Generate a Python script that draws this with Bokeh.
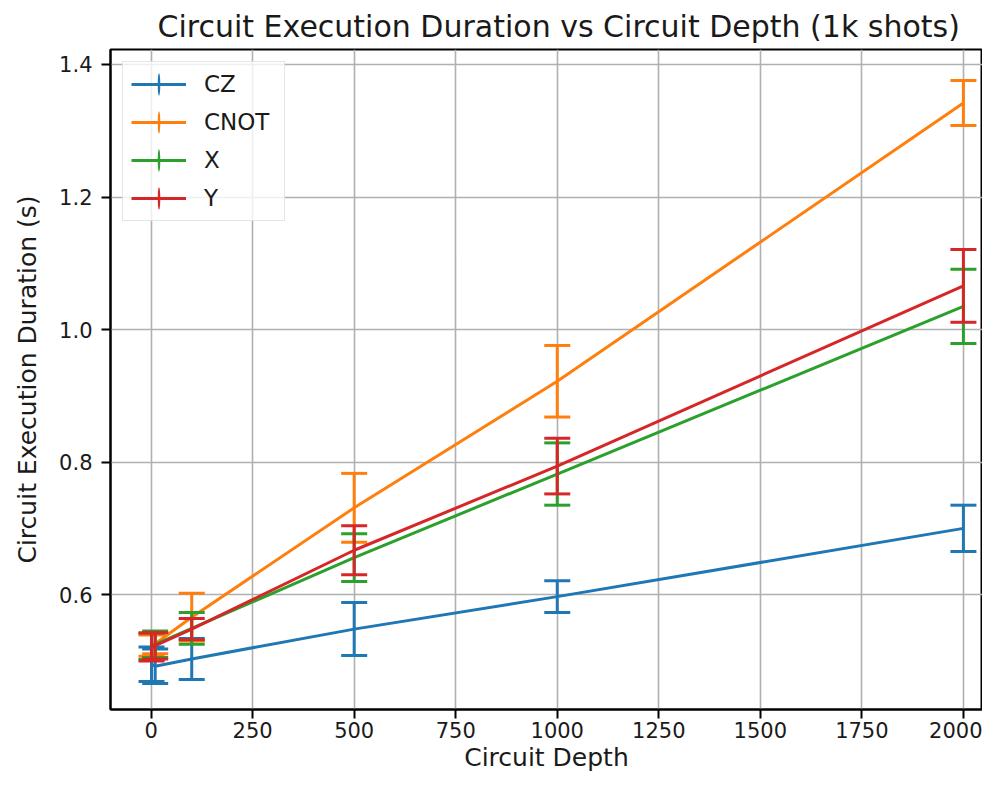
import numpy as np
from bokeh.plotting import figure
from bokeh.models import (Legend, LegendItem, FixedTicker, Range1d, ColumnDataSource)
from bokeh.embed import file_html
from bokeh.resources import INLINE

# ---- data ----
depth = [1, 10, 100, 500, 1000, 2000]

cz_mean = [0.495, 0.492, 0.503, 0.548, 0.597, 0.700]
cz_err = [0.026, 0.026, 0.031, 0.040, 0.024, 0.035]

cnot_mean = [0.523, 0.526, 0.566, 0.731, 0.922, 1.342]
cnot_err = [0.016, 0.015, 0.036, 0.052, 0.054, 0.034]

x_mean = [0.522, 0.525, 0.549, 0.656, 0.782, 1.035]
x_err = [0.020, 0.020, 0.024, 0.036, 0.047, 0.056]

y_mean = [0.521, 0.523, 0.548, 0.667, 0.794, 1.066]
y_err = [0.021, 0.020, 0.016, 0.037, 0.042, 0.055]

series_names = ["CZ", "CNOT", "X", "Y"]
series_means = [cz_mean, cnot_mean, x_mean, y_mean]
series_errs = [cz_err, cnot_err, x_err, y_err]
series_colors = ["#1f77b4", "#ff7f0e", "#2ca02c", "#d62728"]

x_ticks = [0, 250, 500, 750, 1000, 1250, 1500, 1750, 2000]
y_ticks = [0.6, 0.8, 1.0, 1.2, 1.4]
y_tick_labels = ["0.6", "0.8", "1.0", "1.2", "1.4"]

title_text = "Circuit Execution Duration vs Circuit Depth (1k shots)"
x_label = "Circuit Depth"
y_label = "Circuit Execution Duration (s)"

FONT = "DejaVu Sans"
TXT = "#1a1a1a"

p = figure(width=982, height=774, output_backend="svg", toolbar_location=None,
           x_range=Range1d(-100, 2047), y_range=Range1d(0.4267, 1.4226),
           min_border_left=110, min_border_right=0, min_border_top=48,
           min_border_bottom=60, title=title_text)

p.title.text_font = FONT
p.title.text_font_size = "30px"
p.title.text_font_style = "normal"
p.title.text_color = TXT
p.title.align = "left"
p.title.offset = 47
p.title.standoff = 12

p.outline_line_color = "black"
p.outline_line_width = 2
p.background_fill_color = "white"
p.border_fill_color = "white"

for ax in (p.xaxis[0], p.yaxis[0]):
    ax.axis_line_color = "black"
    ax.axis_line_width = 2
    ax.major_tick_line_color = "black"
    ax.major_tick_line_width = 2
    ax.major_tick_out = 9
    ax.major_tick_in = 0
    ax.minor_tick_line_color = None
    ax.major_label_text_font = FONT
    ax.major_label_text_font_size = "21px"
    ax.major_label_text_color = TXT
    ax.axis_label_text_font = FONT
    ax.axis_label_text_font_size = "25px"
    ax.axis_label_text_font_style = "normal"
    ax.axis_label_text_color = TXT

p.xaxis.ticker = FixedTicker(ticks=x_ticks)
p.yaxis.ticker = FixedTicker(ticks=y_ticks)
p.yaxis.major_label_overrides = {t: l for t, l in zip(y_ticks, y_tick_labels)}
p.xaxis.axis_label = x_label
p.yaxis.axis_label = y_label
p.xaxis.major_label_standoff = 3
p.xaxis.axis_label_standoff = 2
p.yaxis.major_label_standoff = 9
p.yaxis.axis_label_standoff = 14

p.grid.grid_line_color = "#b0b0b0"
p.grid.grid_line_width = 1.6

items = []
for name, mean, err, color in zip(series_names, series_means, series_errs, series_colors):
    lo = [m - e for m, e in zip(mean, err)]
    hi = [m + e for m, e in zip(mean, err)]
    src = ColumnDataSource(dict(x=depth, y=mean, lo=lo, hi=hi))
    p.segment(x0="x", y0="lo", x1="x", y1="hi", source=src,
              line_color=color, line_width=3)
    p.scatter("x", "lo", source=src, marker="dash", size=26,
              line_color=color, line_width=3)
    p.scatter("x", "hi", source=src, marker="dash", size=26,
              line_color=color, line_width=3)
    ln = p.line("x", "y", source=src, line_color=color, line_width=3)
    # legend-only proxy: a thin vertical ellipse (not placed in the plot)
    bar = p.ellipse(x=[np.nan], y=[np.nan], width=3, height=26,
                    width_units="screen", height_units="screen",
                    fill_color=color, line_color=None)
    items.append(LegendItem(label=name, renderers=[ln, bar]))

legend = Legend(items=items, location="top_left", margin=12, padding=8,
                spacing=10, glyph_width=55, glyph_height=28, label_height=28,
                label_width=72, label_standoff=18, label_text_font=FONT,
                label_text_font_size="23px", label_text_color=TXT,
                border_line_color="#cccccc", border_line_width=1.5,
                background_fill_color="white", background_fill_alpha=0.8)
p.add_layout(legend)

open("out.html", "w").write(file_html(p, INLINE))
